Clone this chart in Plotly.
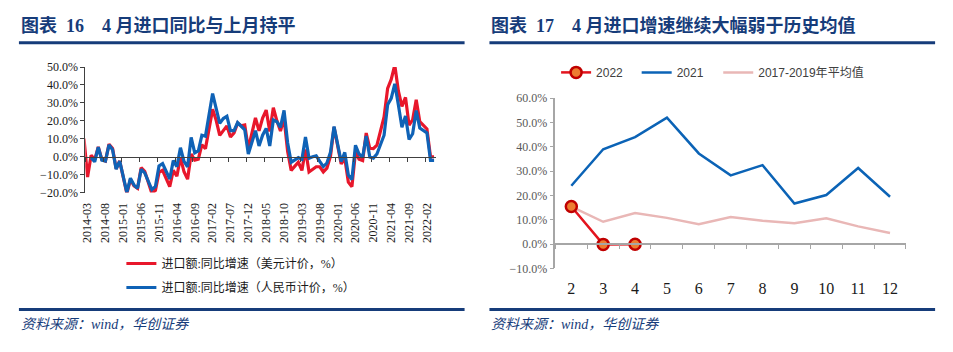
import plotly.graph_objects as go

W, H = 953, 352

# ---------------- left chart data (monthly, 2014-02 .. 2022-04) ----------------
months = []
for yr in range(2014, 2023):
    for mo in range(1, 13):
        if (yr, mo) < (2014, 2) or (yr, mo) > (2022, 4):
            continue
        months.append(f"{yr}-{mo:02d}")

usd_yoy = [
    10.1, -11.3, 0.8, -1.6, 5.5, -1.6, -2.4, 7.0, 4.6, -6.7, -2.4,                  # 2014 Feb-Dec
    None, -20.5, -12.7, -16.2, -17.6, -6.1, -8.1, -13.8, -20.4, -18.8, -8.7, -7.6,  # 2015
    None, -16.7, -7.6, -10.9, -0.4, -8.4, -12.5, 1.5, -1.9, -1.4, 6.7, 4.5,         # 2016
    None, 26.4, 20.3, 11.9, 14.8, 17.2, 11.0, 13.3, 18.7, 17.2, 17.7, 4.5,          # 2017
    None, 21.6, 14.4, 21.5, 26.0, 14.1, 27.3, 20.0, 14.3, 21.4, 3.0, -7.6,          # 2018
    None, -3.1, -7.6, 4.0, -8.5, -7.3, -5.6, -5.6, -8.5, -6.4, 0.3, 16.5,           # 2019
    None, -4.0, -0.9, -14.2, -16.7, 2.7, -1.4, -2.1, 13.2, 4.7, 4.5, 6.5,           # 2020
    None, 22.2, 38.1, 43.1, 51.1, 36.7, 28.1, 33.1, 17.6, 20.6, 31.7, 19.5,         # 2021
    None, 15.5, -0.1, 0.0,                                                          # 2022
]
rmb_yoy = [
    None, None, -0.6, -2.8, 5.3, -1.9, -2.4, 6.6, 3.9, -6.9, -2.4,                  # 2014 Feb-Dec
    None, -19.9, -12.0, -15.8, -17.6, -7.0, -9.0, -14.0, -18.3, -16.5, -5.1, -3.8,  # 2015
    None, -12.4, -2.2, -5.5, 5.0, -2.6, -5.6, 10.8, 2.2, 3.2, 12.0, 11.4,           # 2016
    None, 35.2, 27.0, 18.6, 21.3, 22.5, 14.5, 14.5, 19.0, 17.2, 15.0, 1.5,          # 2017
    None, 14.5, 6.0, 12.0, 15.8, 6.0, 20.5, 19.5, 16.4, 25.8, 7.8, -3.1,            # 2018
    None, -0.5, -1.5, 11.0, -0.8, 0.0, 0.5, -2.6, -5.5, -3.5, 2.5, 16.8,            # 2019
    None, -2.8, 2.4, -10.2, -12.7, 6.4, 1.5, -0.3, 11.5, -0.2, -0.8, 1.5,           # 2020
    None, 12.0, 29.0, 32.5, 40.6, 29.0, 16.4, 22.7, 9.6, 12.8, 25.7, 16.0,          # 2021
    None, 13.3, -2.0, -2.0,                                                         # 2022
]
left_tick_labels = ["2014-03", "2014-08", "2015-01", "2015-06", "2015-11", "2016-04",
                    "2016-09", "2017-02", "2017-07", "2017-12", "2018-05", "2018-10",
                    "2019-03", "2019-08", "2020-01", "2020-06", "2020-11", "2021-04",
                    "2021-09", "2022-02"]

# ---------------- right chart data ----------------
month_num = [2, 3, 4, 5, 6, 7, 8, 9, 10, 11, 12]
y2022 = [15.5, -0.1, 0.0]
y2021 = [24.0, 39.0, 44.0, 52.0, 37.3, 28.3, 32.5, 16.7, 20.2, 31.3, 19.5]
avg_2017_2019 = [15.4, 9.2, 12.8, 10.8, 8.2, 11.2, 9.6, 8.6, 10.6, 7.3, 4.6]


def fx(px):
    return px / W


def fy(py):
    return 1 - py / H


NAVY = "#163C7A"
SERIF = "Liberation Serif, Noto Sans CJK SC, serif"
SANS = "Liberation Sans, Noto Sans CJK SC, sans-serif"

fig = go.Figure()

# left traces
fig.add_trace(go.Scatter(x=months, y=usd_yoy, mode="lines", connectgaps=True,
                         name="进口额:同比增速（美元计价，%）",
                         line=dict(color="#E8172B", width=3.2),
                         xaxis="x", yaxis="y", legend="legend", legendgroup="a"))
fig.add_trace(go.Scatter(x=months, y=rmb_yoy, mode="lines", connectgaps=True,
                         name="进口额:同比增速（人民币计价，%）",
                         line=dict(color="#0F62B6", width=3.2),
                         xaxis="x", yaxis="y", legend="legend", legendgroup="b"))
fig.add_trace(go.Scatter(x=[], y=[], xaxis="x2", yaxis="y", showlegend=False, hoverinfo="skip"))

# right traces (2022 drawn last)
fig.add_trace(go.Scatter(x=month_num, y=avg_2017_2019, mode="lines", name="2017-2019年平均值",
                         line=dict(color="#E9B7B6", width=2.5),
                         xaxis="x3", yaxis="y2", legend="legend4"))
fig.add_trace(go.Scatter(x=month_num, y=y2021, mode="lines", name="2021",
                         line=dict(color="#0B63B6", width=2.5),
                         xaxis="x3", yaxis="y2", legend="legend3"))
fig.add_trace(go.Scatter(x=month_num[:len(y2022)], y=y2022, mode="lines+markers", name="2022",
                         line=dict(color="#E3141E", width=2.5),
                         marker=dict(size=11, color="#ED7D31", line=dict(color="#C00000", width=2.5)),
                         xaxis="x3", yaxis="y2", legend="legend2"))
fig.add_trace(go.Scatter(x=[], y=[], xaxis="x4", yaxis="y2", showlegend=False, hoverinfo="skip"))

# ---------------- left axes ----------------
L_dom_x = [fx(80.7), fx(433.5)]
L_dom_y = [fy(193.3), fy(62.5)]
L_range = [0.36, 98.6]
L_ymin, L_ymax = -20, 50
zero_left = L_dom_y[0] + (0 - L_ymin) / (L_ymax - L_ymin) * (L_dom_y[1] - L_dom_y[0])

left_tick_idx = [months.index(t) for t in left_tick_labels]

fig.update_layout(
    xaxis=dict(domain=L_dom_x, anchor="y", type="category", range=L_range,
               tickmode="array", tickvals=left_tick_labels, ticktext=left_tick_labels,
               tickangle=-90, tickfont=dict(family=SERIF, size=12, color="#1a1a1a"),
               showline=False, showgrid=False, zeroline=False, ticks="",
               ticklabelstandoff=7),
    xaxis2=dict(domain=L_dom_x, overlaying="x", anchor="free", position=zero_left,
                type="linear", range=L_range, showline=True, linecolor="#404040", linewidth=1,
                ticks="outside", ticklen=4, tickcolor="#404040",
                tickmode="array", tickvals=[i - 0.5 for i in left_tick_idx],
                showticklabels=False, showgrid=False, zeroline=False),
    yaxis=dict(domain=L_dom_y, anchor="x", range=[L_ymin, L_ymax], dtick=10,
               tickformat=".1f", ticksuffix="%",
               tickfont=dict(family=SERIF, size=12, color="#1a1a1a"),
               showline=True, linecolor="#404040", linewidth=1,
               ticks="outside", ticklen=4, tickcolor="#404040",
               showgrid=False, zeroline=False),
)

# ---------------- right axes ----------------
R_dom_x = [fx(553.3), fx(905.7)]
R_dom_y = [fy(272.3), fy(95)]
R_range = [1.5, 12.5]
R_ymin, R_ymax = -10, 60
zero_right = R_dom_y[0] + (0 - R_ymin) / (R_ymax - R_ymin) * (R_dom_y[1] - R_dom_y[0])

fig.update_layout(
    xaxis3=dict(domain=R_dom_x, anchor="y2", range=R_range,
                tickmode="array", tickvals=month_num, ticktext=[str(m) for m in month_num],
                tickfont=dict(family=SERIF, size=16, color="#1a1a1a"),
                showline=False, showgrid=False, zeroline=False, ticks="",
                ticklabelstandoff=9),
    xaxis4=dict(domain=R_dom_x, overlaying="x3", anchor="free", position=zero_right,
                range=R_range, showline=True, linecolor="#A6A6A6", linewidth=1.5,
                ticks="outside", ticklen=4, tickcolor="#A6A6A6", tickwidth=1,
                tickmode="array", tickvals=[m + 0.5 for m in [1] + month_num],
                showticklabels=False, showgrid=False, zeroline=False),
    yaxis2=dict(domain=R_dom_y, anchor="x3", range=[R_ymin, R_ymax], dtick=10,
                tickformat=".1f", ticksuffix="%",
                tickfont=dict(family=SERIF, size=12, color="#595959"),
                showline=True, linecolor="#A6A6A6", linewidth=1.5,
                ticks="outside", ticklen=4, tickcolor="#A6A6A6",
                showgrid=False, zeroline=False),
)

# ---------------- legends ----------------
right_legend_font = dict(family=SANS, size=12, color="#404040")
fig.update_layout(
    legend=dict(x=fx(117), y=fy(252), xanchor="left", yanchor="top",
                bgcolor="rgba(0,0,0,0)", tracegroupgap=5,
                font=dict(family=SERIF, size=12, color="#1a1a1a")),
    legend2=dict(x=fx(554), y=fy(53), xanchor="left", yanchor="top", orientation="h",
                 bgcolor="rgba(0,0,0,0)", font=right_legend_font),
    legend3=dict(x=fx(635), y=fy(53), xanchor="left", yanchor="top", orientation="h",
                 bgcolor="rgba(0,0,0,0)", font=right_legend_font),
    legend4=dict(x=fx(717), y=fy(53), xanchor="left", yanchor="top", orientation="h",
                 bgcolor="rgba(0,0,0,0)", font=right_legend_font),
)

# ---------------- titles, rules, footers ----------------
nb = "\u00a0"
annotations = [
    dict(text=f"图表{nb*2}16{nb*4}4{nb}月进口同比与上月持平", x=fx(14), y=fy(19.5),
         xanchor="left", yanchor="middle", showarrow=False,
         font=dict(family=SERIF, size=18, color=NAVY, weight="bold")),
    dict(text=f"图表{nb*2}17{nb*4}4{nb}月进口增速继续大幅弱于历史均值", x=fx(487), y=fy(19.5),
         xanchor="left", yanchor="middle", showarrow=False,
         font=dict(family=SERIF, size=18, color=NAVY, weight="bold")),
    dict(text="资料来源：wind，华创证券", x=fx(14), y=fy(331),
         xanchor="left", yanchor="middle", showarrow=False,
         font=dict(family=SERIF, size=14, color=NAVY, style="italic")),
    dict(text="资料来源：wind，华创证券", x=fx(487), y=fy(331),
         xanchor="left", yanchor="middle", showarrow=False,
         font=dict(family=SERIF, size=14, color=NAVY, style="italic")),
]
for a in annotations:
    a["xref"] = "paper"
    a["yref"] = "paper"

shapes = []
for (x0, x1) in [(14, 462), (487, 935)]:
    for yy in (37.3, 315):
        shapes.append(dict(type="line", xref="paper", yref="paper",
                           x0=fx(x0), x1=fx(x1), y0=fy(yy), y1=fy(yy),
                           line=dict(color=NAVY, width=3)))

fig.update_layout(
    annotations=annotations, shapes=shapes,
    width=W, height=H, autosize=False,
    margin=dict(l=0, r=0, t=0, b=0),
    paper_bgcolor="white", plot_bgcolor="white",
    showlegend=True,
)

fig.write_html("out.html")
